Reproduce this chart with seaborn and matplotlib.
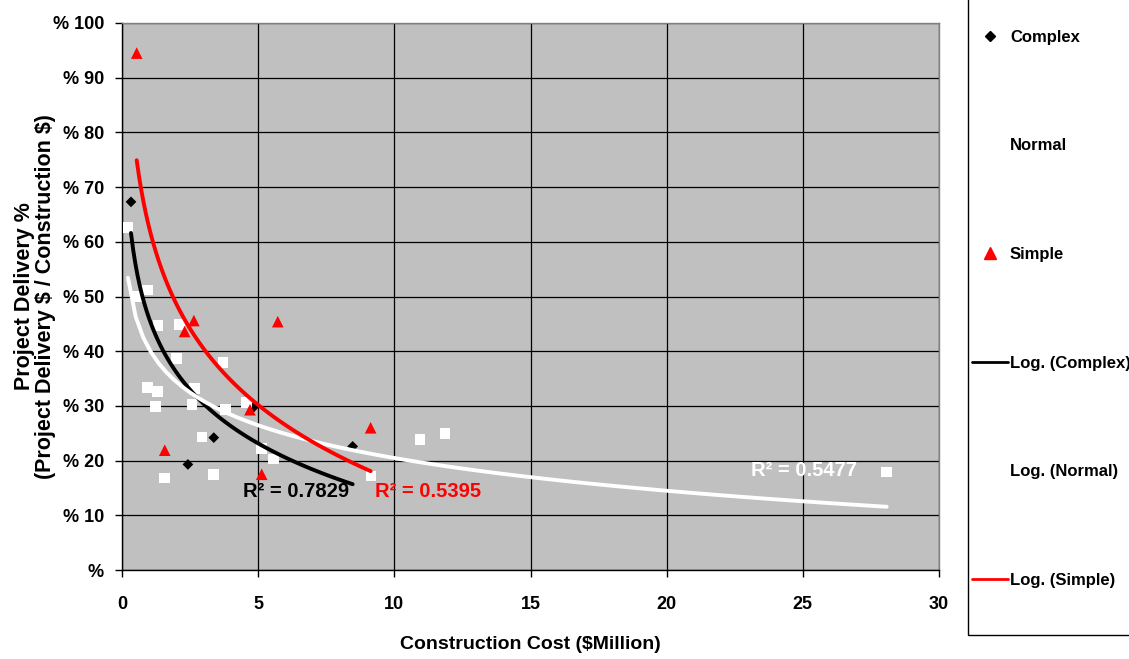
import numpy as np
import matplotlib
matplotlib.use("Agg")
import matplotlib.pyplot as plt
import seaborn as sns
from matplotlib.lines import Line2D
from matplotlib.patches import Rectangle
from matplotlib.ticker import FuncFormatter

# ---- data ----
complex_x = [0.33, 2.42, 3.37, 4.82, 8.47]
complex_y = [67.3, 19.3, 24.2, 29.7, 22.6]

normal_x = [0.22, 0.93, 0.53, 1.32, 2.12, 1.99, 3.71, 0.93, 1.29, 1.22, 2.67, 2.57,
            3.79, 4.56, 2.94, 1.57, 3.37, 5.13, 5.56, 9.14, 10.94, 11.86, 28.08]
normal_y = [62.6, 51.2, 50.0, 44.7, 44.9, 38.7, 38.0, 33.4, 32.6, 29.9, 33.2, 30.2,
            29.3, 30.6, 24.3, 16.8, 17.4, 22.2, 20.3, 17.2, 23.8, 25.0, 17.9]

simple_x = [0.54, 2.64, 2.30, 5.72, 1.57, 4.70, 5.13, 9.13]
simple_y = [94.5, 45.6, 43.6, 45.4, 21.9, 29.3, 17.5, 26.0]

series_names = ["Complex", "Normal", "Simple"]
trend_names = ["Log. (Complex)", "Log. (Normal)", "Log. (Simple)"]
r2_texts = ["R² = 0.7829", "R² = 0.5477", "R² = 0.5395"]
x_ticks = [0, 5, 10, 15, 20, 25, 30]
y_ticks = [0, 10, 20, 30, 40, 50, 60, 70, 80, 90, 100]

# ---- style ----
sns.set_style("ticks")
plt.rcParams['font.family'] = ['Liberation Sans', 'DejaVu Sans']
plt.rcParams['font.weight'] = 'bold'
plt.rcParams['text.color'] = 'black'
plt.rcParams['axes.labelcolor'] = 'black'
plt.rcParams['xtick.color'] = 'black'
plt.rcParams['ytick.color'] = 'black'

fig = plt.figure(figsize=(11.29, 6.59), dpi=100)
ax = fig.add_axes([0.10806, 0.13505, 0.72365, 0.83005])
ax.set_facecolor('#C0C0C0')
ax.set_axisbelow(True)
ax.grid(True, color='black', linewidth=0.9)

# scatter points
sns.scatterplot(x=complex_x, y=complex_y, marker='D', color='black', s=30,
                edgecolor='none', ax=ax, zorder=3)
sns.scatterplot(x=normal_x, y=normal_y, marker='s', color='white', s=60,
                edgecolor='none', ax=ax, zorder=3)
sns.scatterplot(x=simple_x, y=simple_y, marker='^', color='red', s=70,
                edgecolor='none', ax=ax, zorder=3)

# logarithmic trend lines
for xs, ys, c, z in [(complex_x, complex_y, 'black', 4),
                     (normal_x, normal_y, 'white', 5),
                     (simple_x, simple_y, 'red', 6)]:
    sns.regplot(x=np.array(xs), y=np.array(ys), logx=True, ci=None, scatter=False,
                truncate=True, ax=ax, line_kws=dict(color=c, lw=2.8, zorder=z))

ax.set_xlim(0, 30)
ax.set_ylim(0, 100)
ax.set_xticks(x_ticks)
ax.set_yticks(y_ticks)
ax.yaxis.set_major_formatter(FuncFormatter(lambda v, p: f"% {int(v)}" if v else "%"))
ax.tick_params(axis='both', labelsize=13, direction='out', length=5, width=1,
               color='black', labelcolor='black')
ax.tick_params(axis='x', pad=14)
ax.tick_params(axis='y', pad=8)
for lab in ax.get_xticklabels() + ax.get_yticklabels():
    lab.set_fontweight('bold')

for side in ['left', 'bottom']:
    ax.spines[side].set_color('black')
    ax.spines[side].set_linewidth(1)
for side in ['top', 'right']:
    ax.spines[side].set_visible(True)
    ax.spines[side].set_color('#808080')
    ax.spines[side].set_linewidth(1)

ax.set_xlabel("Construction Cost (\\$Million)", fontsize=14, fontweight='bold', color='black')
ax.xaxis.set_label_coords(0.5, -0.12)
ax.set_ylabel("Project Delivery %\n(Project Delivery \\$ / Construction \\$)",
              fontsize=15.5, fontweight='bold', linespacing=1.0, color='black')
ax.yaxis.set_label_coords(-0.0808, 0.5)

# R^2 annotations
ax.text(4.44, 14.3, r2_texts[0], color='black', fontsize=14.5, fontweight='bold',
        ha='left', va='center', zorder=7)
ax.text(23.1, 18.1, r2_texts[1], color='white', fontsize=14.5, fontweight='bold',
        ha='left', va='center', zorder=7)
ax.text(9.29, 14.3, r2_texts[2], color='red', fontsize=14.5, fontweight='bold',
        ha='left', va='center', zorder=7)

# legend
handles = [
    Line2D([], [], marker='D', color='black', linestyle='none', markersize=5),
    Line2D([], [], marker='s', color='white', linestyle='none', markersize=7),
    Line2D([], [], marker='^', color='red', linestyle='none', markersize=8),
    Line2D([], [], color='black', lw=2),
    Line2D([], [], color='white', lw=2),
    Line2D([], [], color='red', lw=2),
]
labels = series_names + trend_names
leg = fig.legend(handles, labels, loc='lower left',
                 bbox_to_anchor=(972 / 1129, (659 - 588) / 659), borderaxespad=0,
                 frameon=False, labelspacing=5.62, handlelength=2.16,
                 handletextpad=0.12, borderpad=0,
                 prop={'weight': 'bold', 'size': 12}, labelcolor='black')
fig.patches.append(Rectangle((968 / 1129, 24 / 659), 0.3, 1.0, transform=fig.transFigure,
                             fill=False, edgecolor='black', linewidth=1))

fig.savefig("out.png", dpi=100, facecolor='white')
